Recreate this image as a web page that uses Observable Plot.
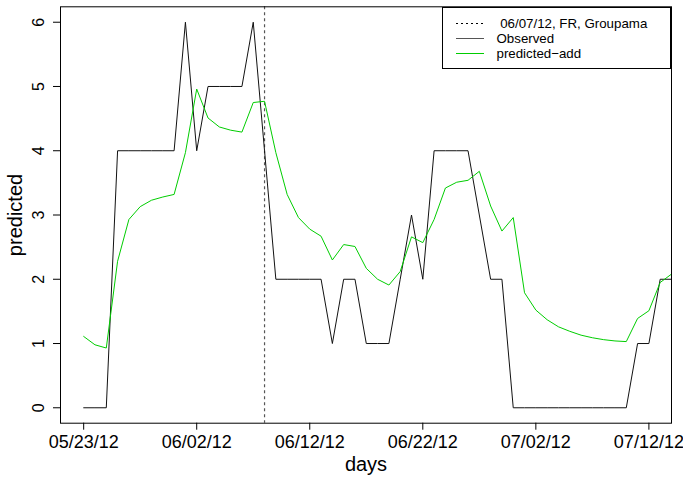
<!DOCTYPE html>
<html>
<head>
<meta charset="utf-8">
<script src="https://cdn.jsdelivr.net/npm/d3@7"></script>
<script src="https://cdn.jsdelivr.net/npm/@observablehq/plot@0.6"></script>
<style>
  body { margin: 0; background: #fff; }
  #wrap { position: relative; width: 683px; height: 477px; font-family: "Liberation Sans", Arial, sans-serif; }
  #wrap svg { display: block; }
  #legend { position: absolute; left: 441.5px; top: 6.5px; width: 229.5px; height: 62.5px; border: 1px solid #000; box-sizing: border-box; background: #fff; font-size: 13.3px; color: #000; }
  .row { position: absolute; left: 0; height: 15px; line-height: 15px; white-space: pre; }
  .row svg { position: absolute; left: 13px; top: 0; }
  .row span { position: absolute; left: 54px; top: 0; }
  g[aria-label="x-axis label"] text, g[aria-label="y-axis label"] text { font-size: 20px; }
</style>
</head>
<body>
<div id="wrap"></div>
<script>
const startDate = "2012-05-23";
// daily values from 05/23/12 onward
const observed = [0,0,0,4,4,4,4,4,4,6,4,5,5,5,5,6,4,2,2,2,2,2,1,2,2,1,1,1,2,3,2,4,4,4,4,3,2,2,0,0,0,0,0,0,0,0,0,0,0,1,1,2,2];
const predicted = [1.11,0.98,0.93,2.28,2.93,3.13,3.23,3.28,3.32,3.97,4.96,4.51,4.37,4.32,4.29,4.75,4.77,3.97,3.32,2.96,2.78,2.67,2.30,2.54,2.51,2.17,2.00,1.91,2.12,2.66,2.57,2.93,3.42,3.51,3.54,3.68,3.14,2.75,2.96,1.79,1.52,1.37,1.26,1.19,1.13,1.09,1.06,1.04,1.03,1.39,1.51,1.95,2.08];
const eventDate = "2012-06-08";
const legendLabels = [" 06/07/12, FR, Groupama", "Observed", "predicted\u2212add"];
const xTicks = ["2012-05-23","2012-06-02","2012-06-12","2012-06-22","2012-07-02","2012-07-12"];
const yTicks = [0,1,2,3,4,5,6];
const xLimitDays = [-2.05, 52.0];
const yLimits = [-0.24, 6.24];

const start = new Date(startDate + "T00:00:00Z");
const day = d => new Date(+start + d * 864e5);
const parse = s => new Date(s + "T00:00:00Z");
const data = observed.map((v, i) => ({date: day(i), observed: v, predicted: predicted[i]}));

const GREEN = "#00CD00";

const chart = Plot.plot({
  width: 683, height: 477,
  marginLeft: 60, marginRight: 12, marginTop: 6.3, marginBottom: 54.3,
  style: {fontFamily: "'Liberation Sans', Arial, sans-serif", background: "#fff", color: "#000"},
  x: {type: "utc", domain: xLimitDays.map(day)},
  y: {domain: yLimits},
  marks: [
    Plot.axisX({ticks: xTicks.map(parse), tickFormat: d3.utcFormat("%m/%d/%y"), tickSize: 7, tickPadding: 5, fontSize: 18,
      label: "days", labelAnchor: "center", labelArrow: "none", labelOffset: 48}),
    Plot.axisY({ticks: yTicks, tickFormat: d3.format("d"), tickSize: 7, tickRotate: -90, tickPadding: 10, fontSize: 16,
      label: "predicted", labelAnchor: "center", labelArrow: "none", labelOffset: 53}),
    Plot.ruleX([parse(eventDate)], {stroke: "#555", strokeWidth: 1.2, strokeDasharray: "3,3"}),
    Plot.line(data, {x: "date", y: "observed", stroke: "#111", strokeWidth: 1, clip: true}),
    Plot.line(data, {x: "date", y: "predicted", stroke: GREEN, strokeWidth: 1, clip: true}),
    Plot.frame({stroke: "#000", strokeWidth: 1})
  ]
});
const wrap = document.getElementById("wrap");
wrap.appendChild(chart);

// legend
const legend = document.createElement("div");
legend.id = "legend";
const styles = [{stroke: "#000", dash: "2,3"}, {stroke: "#555", dash: null}, {stroke: GREEN, dash: null}];
legendLabels.forEach((lab, i) => {
  const row = document.createElement("div");
  row.className = "row";
  row.style.top = (8.7 + i * 15) + "px";
  row.style.width = "100%";
  const dash = styles[i].dash ? ` stroke-dasharray="${styles[i].dash}"` : "";
  row.innerHTML = `<svg width="30" height="15"><line x1="0" x2="28" y1="7.5" y2="7.5" stroke="${styles[i].stroke}" stroke-width="1"${dash}/></svg><span>${lab}</span>`;
  legend.appendChild(row);
});
wrap.appendChild(legend);
</script>
</body>
</html>
